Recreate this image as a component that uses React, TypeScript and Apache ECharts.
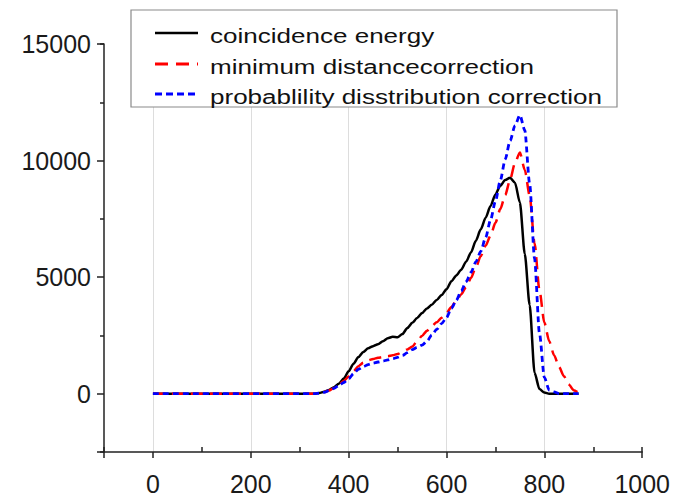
import React, { useEffect, useRef } from "react";
import * as echarts from "echarts";

const xValues = [0, 330, 340, 350, 360, 370, 380, 390, 400, 410, 420, 430, 440, 450, 460, 470, 480, 490, 500, 510, 520, 530, 540, 550, 560, 570, 580, 590, 600, 610, 620, 630, 640, 650, 660, 670, 680, 690, 700, 710, 720, 730, 740, 750, 760, 770, 780, 790, 800, 810, 820, 830, 840, 850, 860, 870];

const coincidenceEnergy = [0, 0, 30, 80, 160, 280, 430, 650, 960, 1290, 1570, 1790, 1950, 2040, 2120, 2250, 2380, 2440, 2420, 2560, 2820, 3040, 3250, 3460, 3660, 3820, 4020, 4230, 4480, 4820, 5070, 5320, 5660, 6060, 6560, 7050, 7550, 8050, 8550, 8920, 9170, 9260, 9050, 8200, 6000, 3800, 900, 200, 50, 0, 0, 0, 0, 0, 0, 0];

const minimumDistance = [0, 0, 30, 70, 140, 250, 390, 550, 740, 960, 1180, 1330, 1430, 1490, 1540, 1570, 1610, 1650, 1700, 1790, 1900, 2020, 2260, 2480, 2700, 2900, 3060, 3260, 3460, 3720, 3980, 4260, 4570, 4960, 5420, 5900, 6350, 6780, 7330, 7920, 8520, 9180, 9900, 10350, 9600, 8500, 6450, 4450, 3050, 2250, 1650, 1150, 750, 400, 150, 40];

const probabilityDistribution = [0, 0, 20, 60, 130, 230, 350, 480, 640, 860, 1050, 1160, 1250, 1310, 1360, 1400, 1450, 1500, 1560, 1640, 1760, 1890, 1990, 2080, 2250, 2520, 2760, 3010, 3260, 3660, 4000, 4400, 4800, 5200, 5650, 6100, 6700, 7450, 8250, 9150, 10050, 10850, 11500, 11950, 11300, 9000, 5800, 2600, 700, 150, 80, 0, 0, 0, 0, 0];

const seriesNames = [
  "coincidence energy",
  "minimum distancecorrection",
  "probablility disstribution correction",
];
const seriesColors = ["#000000", "#ff0000", "#0000ff"];

const FONT = "'Liberation Sans', Arial, sans-serif";

const pairs = (ys: number[]) => xValues.map((x, i) => [x, ys[i]]);

export default function App() {
  const ref = useRef<HTMLDivElement>(null);
  useEffect(() => {
    document.body.style.margin = "0";
    if (!ref.current) return;
    const chart = echarts.init(ref.current, null, { renderer: "svg" });
    const lineStyles = [
      { color: seriesColors[0], width: 2.5, type: "solid" as const },
      { color: seriesColors[1], width: 2.5, type: [12, 7] as any },
      { color: seriesColors[2], width: 2.8, type: [6, 4] as any },
    ];
    const datasets = [coincidenceEnergy, minimumDistance, probabilityDistribution];
    const legendRows = [33, 64, 94];
    chart.setOption({
      animation: false,
      backgroundColor: "#ffffff",
      grid: { left: 104, right: 23, top: 44, bottom: 46, containLabel: false },
      xAxis: [
        {
          type: "value",
          min: -100,
          max: 1000,
          splitNumber: 5,
          position: "bottom",
          axisLine: { show: true, onZero: false, lineStyle: { color: "#222", width: 1.5 } },
          axisTick: { show: true, inside: false, length: 6, lineStyle: { color: "#222", width: 1.5 } },
          axisLabel: {
            show: true,
            margin: 19,
            fontSize: 25,
            fontFamily: FONT,
            color: "#1a1a1a",
            formatter: (v: number) => (v < 0 ? "" : String(v)),
          },
          splitLine: {
            show: true,
            showMinLine: false,
            showMaxLine: false,
            lineStyle: { color: "#dddddd", width: 1 },
          },
        },
        {
          type: "value",
          min: -100,
          max: 1000,
          interval: 200,
          position: "bottom",
          axisLine: { show: false, onZero: false },
          axisTick: { show: true, inside: true, length: 5, lineStyle: { color: "#222", width: 1.5 } },
          axisLabel: { show: false },
          splitLine: { show: false },
        },
      ],
      yAxis: [
        {
          type: "value",
          min: -2500,
          max: 15000,
          splitNumber: 4,
          position: "left",
          axisLine: { show: true, onZero: false, lineStyle: { color: "#222", width: 1.5 } },
          axisTick: { show: true, inside: false, length: 7, lineStyle: { color: "#222", width: 1.5 } },
          axisLabel: {
            show: true,
            margin: 13,
            fontSize: 25,
            fontFamily: FONT,
            color: "#1a1a1a",
            formatter: (v: number) => (v < 0 ? "" : String(v)),
          },
          splitLine: { show: false },
        },
        {
          type: "value",
          min: -2500,
          max: 15000,
          interval: 5000,
          position: "left",
          axisLine: { show: false, onZero: false },
          axisTick: { show: true, inside: false, length: 4, lineStyle: { color: "#222", width: 1.5 } },
          axisLabel: { show: false },
          splitLine: { show: false },
        },
      ],
      series: datasets.map((d, i) => ({
        name: seriesNames[i],
        type: "line",
        xAxisIndex: 0,
        yAxisIndex: 0,
        data: pairs(d),
        symbol: "none",
        smooth: 0.25,
        smoothMonotone: "x",
        lineStyle: lineStyles[i],
        z: 2 + i,
      })),
      graphic: [
        {
          type: "rect",
          z: 100,
          shape: { x: 131, y: 10, width: 486, height: 97 },
          style: { fill: "#ffffff", stroke: "#8a8a8a", lineWidth: 1.2 },
        },
        ...legendRows.map((yy, i) => ({
          type: "line",
          z: 101,
          shape: { x1: 155, y1: yy, x2: 198, y2: yy },
          style: {
            stroke: seriesColors[i],
            lineWidth: i === 0 ? 2.5 : 2.8,
            lineDash: i === 0 ? null : i === 1 ? [13, 8] : [7, 4],
          },
        })),
        ...legendRows.map((yy, i) => ({
          type: "text",
          z: 101,
          x: 210,
          y: yy + 3,
          scaleX: 1.24,
          style: {
            text: seriesNames[i],
            fontSize: 21,
            fontFamily: FONT,
            fill: "#111111",
            verticalAlign: "middle",
            align: "left",
          },
        })),
      ],
    });
    return () => chart.dispose();
  }, []);
  return <div ref={ref} style={{ width: 673, height: 498 }} />;
}
